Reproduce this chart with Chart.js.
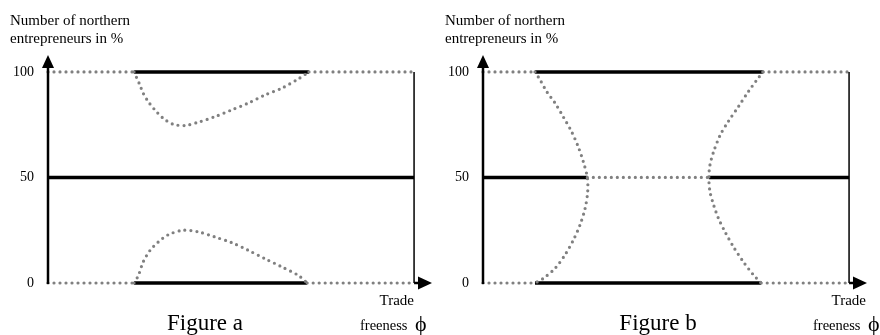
<!DOCTYPE html>
<html>
<head>
<meta charset="utf-8">
<script src="https://cdn.jsdelivr.net/npm/chart.js@4"></script>
<style>
  body { margin: 0; background: #fff; }
  .panel { position: absolute; top: 0; width: 440px; height: 335px; }
</style>
</head>
<body>
<div class="panel" style="left:0"><canvas id="figA" width="440" height="335"></canvas></div>
<div class="panel" style="left:440px"><canvas id="figB" width="440" height="335"></canvas></div>
<script>
// share ticks (northern entrepreneurs in %)
const shareTicks = [0, 50, 100];

// Figure a : stable ranges of trade freeness (phi from 0 to 1)
const aTopSolid = [0.235, 0.713];      // share = 100
const aBottomSolid = [0.235, 0.708];   // share = 0
const aMiddleSolid = [0, 1];           // share = 50
const aUpperCurvePhi = [0.235, 0.251, 0.260, 0.274, 0.292, 0.315, 0.342, 0.374, 0.411, 0.456, 0.502, 0.547, 0.593, 0.639, 0.684, 0.713];
const aUpperCurveShare = [100, 93.8, 89.9, 85.9, 82.0, 78.0, 75.2, 74.6, 76.2, 78.8, 82.0, 85.2, 89.1, 92.3, 96.7, 100];
const aLowerCurvePhi = [0.235, 0.247, 0.260, 0.279, 0.301, 0.329, 0.370, 0.411, 0.456, 0.502, 0.547, 0.593, 0.639, 0.684, 0.708];
const aLowerCurveShare = [0, 3.6, 10.0, 15.5, 19.4, 22.9, 25.0, 24.2, 21.8, 19.1, 15.5, 11.5, 7.6, 3.6, 0];

// Figure b
const bTopSolid = [0.142, 0.765];
const bBottomSolid = [0.142, 0.760];
const bMiddleSolidLeft = [0, 0.285];
const bMiddleSolidRight = [0.617, 1];
const bLeftCurvePhi = [0.142, 0.156, 0.174, 0.197, 0.219, 0.242, 0.260, 0.274, 0.285, 0.286, 0.279, 0.265, 0.247, 0.224, 0.197, 0.165, 0.142];
const bLeftCurveShare = [100, 96.2, 90.7, 85.2, 78.8, 71.7, 64.6, 57.5, 50, 43.3, 35.4, 27.5, 20.4, 13.3, 7.0, 2.2, 0];
const bRightCurvePhi = [0.765, 0.748, 0.725, 0.698, 0.670, 0.648, 0.630, 0.620, 0.617, 0.620, 0.630, 0.643, 0.661, 0.684, 0.711, 0.739, 0.760];
const bRightCurveShare = [100, 96.2, 90.7, 83.6, 76.5, 70.1, 62.2, 55.9, 50, 43.3, 37.0, 30.7, 24.3, 17.2, 10.1, 3.8, 0];

const serif = "'Liberation Serif', 'Times New Roman', serif";

function pts(xs, ys) {
  return xs.map((x, i) => ({ x: x, y: ys[i] }));
}
function flat(range, share) {
  return [{ x: range[0], y: share }, { x: range[1], y: share }];
}
function solid(data) {
  return { data: data, borderColor: '#000', borderWidth: 3.5, pointRadius: 0, clip: false, tension: 0 };
}
function dotted(data, tension) {
  return { data: data, borderColor: '#808080', borderWidth: 3.2, borderDash: [0, 6], borderCapStyle: 'round',
           pointRadius: 0, clip: false, tension: tension || 0 };
}

const axesPlugin = {
  id: 'axesPlugin',
  afterDraw(chart, args, o) {
    const { ctx, chartArea: a, scales: { x, y } } = chart;
    const x0 = a.left, y0 = y.getPixelForValue(0), xr = x.getPixelForValue(1);
    ctx.save();
    ctx.fillStyle = '#000';
    ctx.strokeStyle = '#000';
    // vertical axis with arrow
    ctx.lineWidth = 2.5;
    ctx.beginPath(); ctx.moveTo(x0, y0 + 1); ctx.lineTo(x0, a.top + 10); ctx.stroke();
    ctx.beginPath(); ctx.moveTo(x0, a.top); ctx.lineTo(x0 - 6, a.top + 13); ctx.lineTo(x0 + 6, a.top + 13); ctx.closePath(); ctx.fill();
    // right boundary phi = 1
    ctx.lineWidth = 1.5;
    ctx.beginPath(); ctx.moveTo(xr, y.getPixelForValue(100)); ctx.lineTo(xr, y0); ctx.stroke();
    // horizontal arrow
    ctx.lineWidth = 2.5;
    ctx.beginPath(); ctx.moveTo(xr, y0); ctx.lineTo(a.right - 10, y0); ctx.stroke();
    ctx.beginPath(); ctx.moveTo(a.right, y0); ctx.lineTo(a.right - 14, y0 - 6.5); ctx.lineTo(a.right - 14, y0 + 6.5); ctx.closePath(); ctx.fill();
    // texts
    ctx.textBaseline = 'alphabetic';
    ctx.textAlign = 'left';
    ctx.font = '15px ' + serif;
    ctx.fillText('Number of northern', x0 - 38, 25);
    ctx.fillText('entrepreneurs in %', x0 - 38, 43);
    ctx.textAlign = 'center';
    ctx.font = '23px ' + serif;
    ctx.fillText(o.caption, o.captionX, 330);
    ctx.textAlign = 'right';
    ctx.font = '15px ' + serif;
    ctx.fillText('Trade', o.tradeRight, 305);
    ctx.textAlign = 'left';
    ctx.font = '14.5px ' + serif;
    ctx.fillText('freeness', o.freeLeft, 330);
    ctx.font = '22px ' + serif;
    ctx.fillText('\u03D5', o.freeLeft + 55, 331);
    ctx.restore();
  }
};

function makeChart(id, datasets, axisX, padRight, text) {
  return new Chart(document.getElementById(id), {
    type: 'line',
    data: { datasets: datasets },
    options: {
      responsive: false,
      animation: false,
      layout: { padding: { top: 55, bottom: 52, left: 0, right: padRight } },
      plugins: { legend: { display: false }, tooltip: { enabled: false }, axesPlugin: text },
      scales: {
        x: { type: 'linear', min: 0, max: 1.049, display: false },
        y: {
          min: 0, max: 108,
          afterFit(scale) { scale.width = axisX; },
          afterBuildTicks(scale) { scale.ticks = shareTicks.map(v => ({ value: v })); },
          grid: { display: false, drawTicks: false },
          border: { display: false },
          ticks: { padding: 14, color: '#000', font: { family: serif, size: 14 } }
        }
      }
    },
    plugins: [axesPlugin]
  });
}

makeChart('figA', [
  dotted(flat([0, aTopSolid[0]], 100)),
  dotted(flat([aTopSolid[1], 1], 100)),
  dotted(flat([0, aBottomSolid[0]], 0)),
  dotted(flat([aBottomSolid[1], 1], 0)),
  dotted(pts(aUpperCurvePhi, aUpperCurveShare), 0.3),
  dotted(pts(aLowerCurvePhi, aLowerCurveShare), 0.3),
  solid(flat(aTopSolid, 100)),
  solid(flat(aMiddleSolid, 50)),
  solid(flat(aBottomSolid, 0))
], 48, 8, { caption: 'Figure a', captionX: 205, tradeRight: 414, freeLeft: 360 });

makeChart('figB', [
  dotted(flat([0, bTopSolid[0]], 100)),
  dotted(flat([bTopSolid[1], 1], 100)),
  dotted(flat([0, bBottomSolid[0]], 0)),
  dotted(flat([bBottomSolid[1], 1], 0)),
  dotted(flat([bMiddleSolidLeft[1], bMiddleSolidRight[0]], 50)),
  dotted(pts(bLeftCurvePhi, bLeftCurveShare), 0.3),
  dotted(pts(bRightCurvePhi, bRightCurveShare), 0.3),
  solid(flat(bTopSolid, 100)),
  solid(flat(bBottomSolid, 0)),
  solid(flat(bMiddleSolidLeft, 50)),
  solid(flat(bMiddleSolidRight, 50))
], 43, 13, { caption: 'Figure b', captionX: 218, tradeRight: 426, freeLeft: 373 });
</script>
</body>
</html>
